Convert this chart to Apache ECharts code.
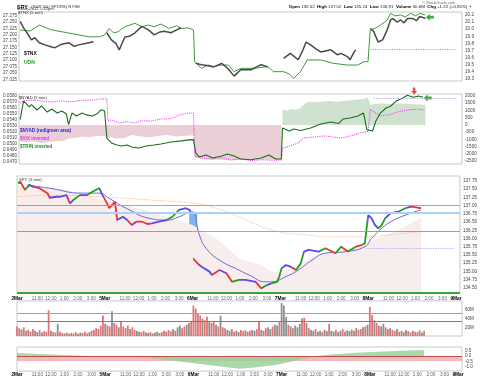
<!DOCTYPE html>
<html>
<head>
<meta charset="utf-8">
<script src="https://cdn.jsdelivr.net/npm/echarts@6/dist/echarts.min.js"></script>
<style>
  html, body { margin: 0; padding: 0; background: #fff; }
  #chart { width: 480px; height: 377px; }
</style>
</head>
<body>
<div id="chart"></div>
<script>
// x is a 5-min bar index: 0 = 2Mar 9:30, 78 bars per session
const days = ['2Mar', '5Mar', '6Mar', '7Mar', '8Mar', '9Mar'];
const hourLabels = ['11:00', '12:00', '1:00', '2:00', '3:00'];
const hourOffsets = [18, 30, 42, 54, 66];

// top panel: UDN (left axis) and $TNX (right axis)
const udnTicks = [27.275, 27.25, 27.225, 27.2, 27.175, 27.15, 27.125, 27.1, 27.075, 27.05, 27.025];
const tnxTicks = [20.2, 20.1, 20.0, 19.9, 19.8, 19.7, 19.6, 19.5, 19.4, 19.3];
const udn = [[1,27.219],[10,27.215],[18,27.238],[29,27.219],[44,27.207],[62,27.192],[71,27.192],[76,27.199],
  [80,27.225],[84,27.207],[88,27.212],[94,27.232],[103,27.245],[109,27.232],[115,27.238],[120,27.232],[126,27.242],
  [133,27.225],[140,27.235],[144,27.225],[150,27.227],[155,27.219],[156,27.094],[162,27.068],[168,27.081],[173,27.075],
  [180,27.081],[186,27.081],[191,27.055],[197,27.068],[209,27.068],[221,27.075],[226,27.055],[235,27.055],[240,27.046],
  [244,27.029],[250,27.055],[256,27.101],[268,27.101],[279,27.088],[292,27.081],[301,27.081],[306,27.094],[310,27.094],
  [312,27.219],[317,27.227],[321,27.238],[327,27.258],[330,27.284],[334,27.274],[339,27.278],[343,27.270],[348,27.284],
  [352,27.274],[356,27.284],[361,27.278]];
const tnx = [[1,20.11],[4,20.02],[7,19.95],[11,19.85],[14,19.88],[18,19.81],[23,19.78],[29,19.75],[32,19.74],[38,19.79],
  [44,19.81],[49,19.76],[53,19.78],[59,19.80],[65,19.82],[66,19.83],[70,null],
  [78,19.95],[82,19.85],[86,19.80],[89,19.71],[94,19.89],[98,19.90],[103,19.95],[109,20.04],[115,19.99],[120,19.92],
  [125,19.96],[129,19.97],[135,19.95],[140,19.99],[144,20.02],[148,null],
  [157,19.52],[162,19.50],[167,19.49],[173,19.47],[180,19.52],[186,19.44],[191,19.34],[197,19.43],[206,19.43],
  [211,19.47],[215,19.50],[221,19.47],[224,null],
  [235,19.59],[241,19.66],[248,19.57],[252,19.70],[255,19.82],[259,19.78],[264,19.72],[268,19.68],[277,19.71],
  [283,19.64],[286,19.66],[292,19.61],[294,19.57],[297,19.66],[299,19.71],[304,null],
  [312,20.01],[315,19.97],[319,19.82],[323,19.85],[327,19.99],[330,20.13],[332,20.15],[336,20.10],[339,20.13],
  [342,20.09],[345,20.15],[350,20.15],[353,20.12],[356,20.18],[361,20.15]];
const tnxLast = [[365, 20.17]];
const tnxLevel = [19.72, 312, 389];

// second panel: $NYAD area + $TRIN inverted (right), $VIX inverted (left)
const vixTicks = [0.058, 0.057, 0.056, 0.055, 0.054, 0.053, 0.052, 0.051, 0.050, 0.049, 0.048, 0.047];
const nyadTicks = [2000, 1500, 1000, 500, 0, -500, -1000, -1500, -2000, -2500];
const nyad = [[0,-1150],[6,-1200],[12,-1150],[20,-1250],[30,-1150],[40,-1100],[44,-950],[50,-900],[56,-800],[62,-850],
  [70,-750],[77,-800],[78,-850],[86,-950],[94,-900],[100,-700],[108,-800],[116,-850],[124,-750],[132,-700],[140,-800],
  [148,-750],[155,-720],[156,-2200],[158,-2300],[170,-2400],[190,-2450],[210,-2400],[233,-2420],
  [234,1050],[238,1000],[242,1100],[246,1050],[250,1150],[254,1500],[258,1600],[264,1580],[270,1620],[276,1650],
  [282,1600],[288,1650],[294,1700],[300,1750],[306,1800],[310,1900],[311,1950],[312,1400],[316,1450],[322,1500],
  [330,1450],[340,1480],[350,1420],[361,1400]];
const vixInv = [[1,0.05673],[4,0.05706],[12,0.05722],[20,0.05706],[29,0.05690],[38,0.05706],[47,0.05694],[56,0.05718],
  [65,0.05722],[73,0.05739],[78,0.05744],[79,0.05376],[82,0.05393],[89,0.05343],[96,0.05365],[103,0.05343],[109,0.05381],
  [118,0.05376],[126,0.05409],[135,0.05414],[142,0.05475],[149,0.05503],[155,0.05508],[156,0.04799],[162,0.04766],
  [171,0.04749],[180,0.04771],[188,0.04733],[197,0.04754],[206,0.04722],[215,0.04738],[224,0.04728],[233,0.04733],
  [234,0.04931],[241,0.04964],[248,0.05013],[253,0.05096],[262,0.05112],[271,0.05129],[279,0.05112],[286,0.05096],
  [294,0.05129],[303,0.05178],[310,0.05206],[312,0.05563],[317,0.05508],[321,0.05459],[325,0.05475],[330,0.05480],
  [334,0.05516],[339,0.05536],[348,0.05563],[355,0.05570],[360,0.05558]];
const trinInv = [[1,360],[4,1655],[9,1240],[11,1400],[16,1030],[20,1310],[25,890],[29,1100],[34,820],[38,960],[42,750],
  [44,15],[47,820],[51,620],[56,820],[60,690],[65,620],[69,750],[73,1050],[76,960],[78,-910],[82,-1250],[87,-1390],
  [91,-1460],[96,-1390],[100,-1530],[106,-1600],[113,-1460],[120,-1390],[126,-1320],[135,-1180],[144,-1110],[151,-1040],
  [155,-1020],[157,-1950],[160,-2220],[166,-2080],[172,-2290],[180,-2150],[185,-2010],[191,-2150],[197,-2360],
  [206,-2410],[215,-2290],[222,-2080],[228,-2360],[233,-2360],[234,-215],[240,-420],[244,-280],[250,-390],[259,-215],
  [268,60],[277,200],[284,100],[288,410],[294,480],[301,620],[306,820],[309,-330],[314,-420],[317,270],[321,820],
  [326,1170],[330,1290],[335,1650],[341,1860],[345,2050],[350,1910],[355,2000],[359,1910]];
const nyadLast = [[363, 1862]];
const nyadAlert = [[351, 2347]];
const nyadLevel = [1860, 315, 389];

// SPY panel
const spyTicks = [137.75, 137.5, 137.25, 137.0, 136.75, 136.5, 136.25, 136.0, 135.75, 135.5, 135.25, 135.0, 134.75, 134.5];
const spy = [[1,137.68],[3,137.73],[7,137.48],[11,137.63],[14,137.58],[20,137.53],[27,137.38],[29,137.24],[35,137.27],
  [38,137.27],[44,137.32],[47,137.07],[50,137.17],[56,137.32],[62,137.32],[67,137.42],[73,137.53],[76,137.32],
  [80,137.07],[82,136.92],[87,137.12],[89,136.56],[94,136.66],[98,136.56],[102,136.41],[106,136.51],[111,136.51],
  [116,136.44],[120,136.46],[126,136.51],[133,136.56],[138,136.66],[144,136.87],[150,136.92],[155,136.84],
  [156,135.40],[162,135.19],[164,135.14],[171,134.99],[173,134.89],[180,135.04],[186,134.94],[191,134.68],[197,134.74],
  [203,134.74],[212,134.68],[217,134.48],[222,134.58],[226,134.63],[231,134.68],[233,134.84],
  [235,135.09],[239,135.19],[243,135.14],[248,135.04],[252,135.24],[255,135.60],[259,135.65],[268,135.60],[274,135.70],
  [283,135.55],[288,135.75],[294,135.60],[301,135.75],[306,135.80],[309,135.85],
  [312,136.71],[315,136.61],[318,136.41],[321,136.31],[324,136.41],[327,136.61],[332,136.77],[339,136.82],[345,136.92],
  [350,136.97],[356,136.94],[359,136.92]];
// g = up run, r = down run, b = neutral, x = no segment (opening gap)
const spyTrend = 'ggrgbrrrbbbrbgbggb' + 'rrrrbbrbrrrbbggbb' + 'xrbbbrbrgbbrgbgg' + 'gbbrggbbgrgrgrg' + 'gbbbggbbgbrr';
const spyMaShort = [[9,137.63],[29,137.53],[58,137.38],[73,137.38],[82,137.22],[97,136.92],[118,136.61],[133,136.56],
  [144,136.66],[155,136.82],[162,136.11],[168,135.70],[180,135.34],[197,135.04],[206,134.89],[221,134.68],[226,134.68],
  [239,134.84],[250,135.04],[262,135.34],[274,135.55],[292,135.60],[309,135.75],[315,136.00],[324,136.31],[332,136.51],
  [345,136.71],[359,136.87]];
const spyMaLong = [[1,137.27],[29,137.32],[73,137.27],[118,137.17],[156,137.07],[177,136.92],[197,136.66],[226,136.26],
  [256,136.11],[286,136.05],[309,136.05],[330,136.11],[359,136.21]];
const spyBand = [[1,137.63],[44,137.48],[82,137.12],[118,136.82],[156,136.41],[177,136.01],[197,135.40],[215,135.22],
  [226,134.99],[235,134.95],[248,135.19],[265,135.50],[286,135.65],[309,135.80],[321,136.01],[339,136.26],[359,136.63]];
// [price, fromBar, toBar, kind]
const spyLevels = [[137.0,0,85,'support'],[137.0,85,393.5,'resistance'],[136.78,0,393.5,'pivot'],
  [136.23,0,156,'support'],[136.23,156,310,'resistance'],[136.23,310,393.5,'support'],[134.35,0,393.5,'floor']];
const spyGap = [153, 160, 136.78, 135.44];
const spyLevel = [135.70, 310, 389];

// volume (millions), one sample every 10 minutes per session
const volTicks = [20, 40, 60];
const vol2Mar = [22,18,15,20,12,14,10,16,12,9,14,8,11,10,59,12,9,8,28,10,7,6,8,5,7,6,9,5,8,7,10,6,9,12,14,18,16,24,47];
const vol5Mar = [28,24,22,57,30,26,20,34,22,18,24,16,20,14,12,10,9,12,8,7,9,6,8,10,7,9,12,10,14,11,16,12,20,24,18,22,26,30,34];
const vol6Mar = [70,63,51,47,40,36,44,32,30,34,26,22,47,20,18,14,12,16,10,12,9,14,11,13,10,12,14,12,16,32,14,12,18,20,16,22,26,24,32];
const vol7Mar = [76,70,44,26,22,18,24,20,28,40,42,30,18,14,12,16,10,12,9,14,11,28,12,10,14,9,12,16,10,13,11,15,12,18,14,16,20,22,26];
const vol8Mar = [67,48,36,30,24,22,28,20,16,18,14,12,16,10,12,9,14,11,8,12,10,9,13,8,12];
const volDir = ['dduddudduududdduddud' + 'duddudduudddudddudd', 'uddudduddddudduudduu' + 'dduudddudduduudduud',
  'ddddudduddududduuddu' + 'uddudduuddudduuduud', 'uuududuuudduduuduudu' + 'uduuduudduuduuddudu', 'ddudduudduddudduuddudduud'];
const volAvg = [51.5, 34.5];

// bottom oscillator
const oscTicks = [0.5, 0, -0.5, -1];
const osc = [[0,0.26],[20,0.18],[40,0.08],[60,0.02],[80,-0.05],[100,-0.1],[120,-0.2],[140,-0.45],[160,-0.7],[180,-0.95],
  [197,-1.15],[210,-1.05],[230,-0.8],[245,-0.45],[255,-0.2],[265,0.0],[280,0.15],[300,0.28],[320,0.38],[340,0.46],[360,0.54]];
const oscBand = [0, -0.45];

const X_MAX = 393.5;
const FONT = 'Liberation Sans, Arial, sans-serif';
const chart = echarts.init(document.getElementById('chart'));

const grids = [
  { top: 12, height: 69 }, { top: 94, height: 70 }, { top: 176, height: 117 },
  { top: 301, height: 35 }, { top: 347, height: 25 }
].map(g => Object.assign({ left: 17, right: 18, show: true, borderColor: '#c9c9c9', borderWidth: 1 }, g));

const xTickValues = [];
days.forEach((d, i) => {
  xTickValues.push(i * 78);
  if (i < 5) hourOffsets.forEach(o => xTickValues.push(i * 78 + o));
});
const xLabel = v => {
  const d = Math.floor(v / 78), o = v - d * 78;
  return o === 0 ? '{d|' + days[d] + '}' : hourLabels[hourOffsets.indexOf(o)];
};

const xAxes = grids.map((g, i) => ({
  type: 'value', gridIndex: i, min: 0, max: X_MAX,
  axisLine: { show: false }, axisTick: { show: false }, splitLine: { show: false },
  axisLabel: (i === 2 || i === 4) ? {
    customValues: xTickValues, formatter: xLabel, fontSize: 4.6, color: '#666', margin: i === 2 ? 3 : 1,
    fontFamily: FONT, rich: { d: { fontWeight: 'bold', color: '#000', fontSize: 4.8, fontFamily: FONT } }
  } : { show: false }
}));

function yAxis(grid, pos, min, max, ticks, fmt) {
  return {
    type: 'value', gridIndex: grid, position: pos, min: min, max: max,
    axisLine: { show: false }, axisTick: { show: false }, splitLine: { show: false },
    axisLabel: { customValues: ticks, formatter: fmt, fontSize: 4.6, color: '#444', fontFamily: FONT, margin: pos === 'left' ? 2 : 3 }
  };
}
const yAxes = [
  yAxis(0, 'left', 27.0183, 27.2895, udnTicks, v => v.toFixed(3)),
  yAxis(0, 'right', 19.2717, 20.2422, tnxTicks, v => v.toFixed(1)),
  yAxis(1, 'left', 0.046671, 0.058214, vixTicks, v => v.toFixed(4)),
  yAxis(1, 'right', -2708, 2138, nyadTicks, v => String(v)),
  yAxis(2, 'right', 134.339, 137.902, spyTicks, v => v.toFixed(2)),
  yAxis(3, 'right', 0, 80.46, volTicks, v => v + 'M'),
  yAxis(4, 'right', -1.353, 0.80, oscTicks, v => v.toFixed(1))
];

const dotted = (lvl, color) => ({
  silent: true, symbol: 'none', label: { show: false },
  lineStyle: { color: color, type: 'dotted', width: 1.2 },
  data: [[{ coord: [lvl[1], lvl[0]] }, { coord: [lvl[2], lvl[0]] }]]
});
const ARROW_LEFT = 'path://M0,5 L5,0 L5,3 L10,3 L10,7 L5,7 L5,10 Z';
const ARROW_DOWN = 'path://M3,0 L7,0 L7,5 L10,5 L5,10 L0,5 L3,5 Z';

const levelColor = { support: '#6cbf6c', resistance: '#f08a8a', pivot: '#a9d3f5', floor: '#38a838' };
const levelWidth = { support: 1, resistance: 1, pivot: 2, floor: 2 };

const volData = [];
[vol2Mar, vol5Mar, vol6Mar, vol7Mar, vol8Mar].forEach((arr, d) => {
  arr.forEach((v, k) => {
    volData.push({ value: [d * 78 + 2 * k, v], itemStyle: { color: volDir[d][k] === 'u' ? '#8e8e8e' : '#e27474' } });
  });
});

const trendColor = { g: '#22a022', r: '#ee3030', b: '#5a48e8' };
const spyData = [];
const pieces = [];
spy.forEach((p, i) => {
  const t = spyTrend[i];
  if (t === 'x') spyData.push([p[0] - 0.5, null]);
  spyData.push(p);
  if (i > 0 && t !== 'x') pieces.push({ gt: spy[i - 1][0], lte: p[0], color: trendColor[t] });
});
pieces.push({ lte: spy[0][0], color: trendColor[spyTrend[0]] });

const series = [
  { type: 'line', name: 'UDN', xAxisIndex: 0, yAxisIndex: 0, data: udn, symbol: 'none',
    lineStyle: { color: '#3c9c3c', width: 1 } },
  { type: 'line', name: '$TNX', xAxisIndex: 0, yAxisIndex: 1, data: tnx, symbol: 'none',
    lineStyle: { color: '#4a4a4a', width: 1.5 }, markLine: dotted(tnxLevel, '#9a9ae8') },
  { type: 'scatter', xAxisIndex: 0, yAxisIndex: 1, data: tnxLast, symbol: ARROW_LEFT, symbolSize: [8, 7],
    itemStyle: { color: '#129a12' }, clip: false },

  { type: 'line', name: 'NYAD-', xAxisIndex: 1, yAxisIndex: 3, data: nyad.filter(p => p[1] < 0), symbol: 'none',
    lineStyle: { width: 0 }, areaStyle: { color: '#ebcfd7', opacity: 1 } },
  { type: 'line', name: 'NYAD+', xAxisIndex: 1, yAxisIndex: 3, data: nyad.filter(p => p[1] >= 0), symbol: 'none',
    lineStyle: { width: 0 }, areaStyle: { color: '#cfe1cf', opacity: 1 } },
  { type: 'line', name: '$VIX inverted', xAxisIndex: 1, yAxisIndex: 2, data: vixInv, symbol: 'none',
    lineStyle: { color: '#ee44ee', width: 1.1, type: 'dotted' } },
  { type: 'line', name: '$TRIN inverted', xAxisIndex: 1, yAxisIndex: 3, data: trinInv, symbol: 'none',
    lineStyle: { color: '#1f6a1f', width: 1.1 }, markLine: dotted(nyadLevel, '#a9a9ec') },
  { type: 'scatter', xAxisIndex: 1, yAxisIndex: 3, data: nyadLast, symbol: ARROW_LEFT, symbolSize: [8, 7],
    itemStyle: { color: '#129a12' }, clip: false },
  { type: 'scatter', xAxisIndex: 1, yAxisIndex: 3, data: nyadAlert, symbol: ARROW_DOWN, symbolSize: [6, 7],
    itemStyle: { color: '#e41e1e' }, clip: false },

  { type: 'line', name: 'band', xAxisIndex: 2, yAxisIndex: 4, data: spyBand, symbol: 'none',
    lineStyle: { width: 0 }, areaStyle: { color: '#f7eded', opacity: 1, origin: 'start' },
    markArea: { silent: true, itemStyle: { color: '#80b3ea' },
      data: [[{ coord: [spyGap[0], spyGap[2]] }, { coord: [spyGap[1], spyGap[3]] }]] },
    markLine: { silent: true, symbol: 'none', label: { show: false },
      data: spyLevels.map(l => [
        { coord: [l[1], l[0]], lineStyle: { color: levelColor[l[3]], width: levelWidth[l[3]], type: 'solid' } },
        { coord: [l[2], l[0]] }]) } },
  { type: 'line', name: 'maLong', xAxisIndex: 2, yAxisIndex: 4, data: spyMaLong, symbol: 'none', smooth: true,
    lineStyle: { color: '#f3bf9a', width: 1, type: 'dotted' }, markLine: dotted(spyLevel, '#b2b2f0') },
  { type: 'line', name: 'maShort', xAxisIndex: 2, yAxisIndex: 4, data: spyMaShort, symbol: 'none', smooth: true,
    lineStyle: { color: '#6a6ad8', width: 1 } },
  { type: 'line', name: 'SPY', xAxisIndex: 2, yAxisIndex: 4, data: spyData, symbol: 'none',
    lineStyle: { width: 1.8 } },

  { type: 'bar', name: 'Volume', xAxisIndex: 3, yAxisIndex: 5, data: volData, barWidth: 1.8,
    markLine: { silent: true, symbol: 'none', label: { show: false },
      data: [{ yAxis: volAvg[0], lineStyle: { color: '#ee8080', width: 1, type: 'solid' } },
             { yAxis: volAvg[1], lineStyle: { color: '#7070e0', width: 1, type: 'solid' } }] } },

  { type: 'line', name: 'osc', xAxisIndex: 4, yAxisIndex: 6, data: osc, symbol: 'none',
    lineStyle: { width: 0 }, areaStyle: { color: '#93cf93', opacity: 0.8 },
    markArea: { silent: true, itemStyle: { color: 'rgba(236,100,100,0.45)' },
      data: [[{ coord: [0, oscBand[0]] }, { coord: [X_MAX, oscBand[1]] }]] },
    markLine: { silent: true, symbol: 'none', label: { show: false },
      data: [{ yAxis: 0, lineStyle: { color: '#b85050', width: 1.2, type: 'solid' } }] } }
];
const spyIndex = series.findIndex(s => s.name === 'SPY');

const txt = (x, y, text, size, color, weight, align) => ({
  type: 'text', x: x, y: y, silent: true, z: 100,
  style: { text: text, fill: color, font: (weight || 'normal') + ' ' + size + 'px ' + FONT,
           textAlign: align || 'left', textVerticalAlign: 'top' }
});

chart.setOption({
  animation: false,
  backgroundColor: '#fff',
  grid: grids,
  xAxis: xAxes,
  yAxis: yAxes,
  visualMap: [{ type: 'piecewise', show: false, dimension: 0, seriesIndex: spyIndex, pieces: pieces }],
  series: series,
  graphic: [
    { type: 'text', x: 17, y: 1, silent: true, z: 100, style: {
      text: '{b|SPY} {n|(S&P 500 SPDRS) NYSE}', textVerticalAlign: 'top',
      rich: { b: { font: 'bold 5.5px ' + FONT, fill: '#000' }, n: { font: '4.3px ' + FONT, fill: '#333' } } } },
    txt(17, 6.5, '8-Mar-2012 1:32pm', 4.2, '#333'),
    txt(18, 11, '$TNX (5 min)', 4.2, '#333'),
    txt(455, 0.5, '\u00a9 StockCharts.com', 3.8, '#666', 'normal', 'right'),
    { type: 'text', x: 472, y: 4.5, silent: true, z: 100, style: {
      text: '{b|Open} 135.52  {b|High} 137.02  {b|Low} 135.24  {b|Last} 136.91  {b|Volume} 50.6M  {b|Chg} +1.22 (+0.90%) {g|\u25b2}',
      textAlign: 'right', textVerticalAlign: 'top', font: '4.4px ' + FONT, fill: '#222',
      rich: { b: { font: 'bold 4.4px ' + FONT, fill: '#000' }, g: { font: '3.5px ' + FONT, fill: '#1a9a1a' } } } },
    txt(24, 51, '$TNX', 5, '#111', 'bold'),
    txt(24, 60, 'UDN', 5, '#2e9a2e', 'bold'),
    txt(19, 95.5, '$NYAD (5 min)', 4.2, '#333'),
    txt(20, 128.5, '$NYAD (red/green area)', 4.6, '#2a2acc', 'bold'),
    txt(20, 136.5, '$VIX inverted', 4.6, '#e23ce2', 'bold'),
    txt(20, 144, '$TRIN inverted', 4.6, '#2a8a2a', 'bold'),
    txt(19, 177.5, 'SPY (5 min)', 4.2, '#333')
  ]
});
</script>
</body>
</html>
